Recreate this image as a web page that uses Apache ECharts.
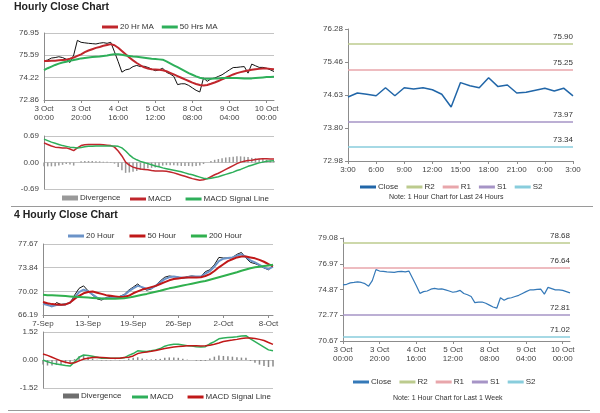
<!DOCTYPE html>
<html><head><meta charset="utf-8">
<script src="https://cdn.jsdelivr.net/npm/echarts@6/dist/echarts.min.js"></script>
<style>html,body{margin:0;padding:0;background:#fff}#c{width:600px;height:413px}</style>
</head><body><div id="c"></div>
<script>
// ---------- Hourly (2-hour steps) 3 Oct 00:00 -> 10 Oct ----------
const hourlyTicks = ['3 Oct\n00:00','3 Oct\n20:00','4 Oct\n16:00','5 Oct\n12:00','8 Oct\n08:00','9 Oct\n04:00','10 Oct\n00:00'];
const hourlyClose = [75.25,75.3,75.42,75.45,75.5,75.45,75.35,75.15,75.6,76.5,76.38,76.35,76.32,76.3,76.28,76.33,76.36,76.32,76.38,75.8,75.2,74.56,74.7,74.75,74.9,74.97,74.9,74.92,74.85,74.75,74.65,74.7,74.8,74.55,74.45,74.3,73.8,73.85,73.85,73.75,73.6,73.45,73.35,74.2,74.0,74.15,74.2,74.3,74.4,74.55,74.7,74.84,74.85,74.88,74.9,74.5,75.05,74.95,74.85,74.85,74.8,74.7,74.6];
const ma20Hr = [75.24,75.24,75.25,75.26,75.28,75.3,75.32,75.38,75.45,75.55,75.65,75.78,75.88,75.96,76.04,76.1,76.17,76.22,76.27,76.2,76.05,75.85,75.65,75.45,75.28,75.12,74.98,74.85,74.78,74.74,74.72,74.7,74.68,74.62,74.52,74.42,74.32,74.22,74.12,74.02,73.92,73.84,73.78,73.75,73.78,73.85,73.93,74.02,74.12,74.22,74.32,74.42,74.5,74.56,74.62,74.66,74.7,74.74,74.76,74.78,74.78,74.76,74.74];
const ma50Hr = [74.68,74.8,74.9,75.0,75.08,75.15,75.2,75.25,75.3,75.35,75.4,75.43,75.46,75.48,75.5,75.52,75.55,75.58,75.62,75.65,75.65,75.62,75.58,75.55,75.52,75.5,75.47,75.44,75.41,75.38,75.36,75.34,75.32,75.22,75.1,74.98,74.86,74.74,74.62,74.5,74.4,74.3,74.22,74.17,74.15,74.16,74.17,74.18,74.2,74.2,74.2,74.2,74.2,74.19,74.18,74.17,74.18,74.2,74.22,74.24,74.26,74.27,74.28];
const macdHourly = [0.51,0.47,0.43,0.40,0.39,0.38,0.38,0.35,0.31,0.38,0.44,0.46,0.47,0.47,0.47,0.47,0.46,0.45,0.44,0.40,0.30,0.17,0.01,-0.07,-0.12,-0.15,-0.17,-0.18,-0.19,-0.21,-0.22,-0.22,-0.22,-0.23,-0.25,-0.27,-0.30,-0.33,-0.36,-0.39,-0.42,-0.44,-0.46,-0.45,-0.42,-0.37,-0.32,-0.28,-0.23,-0.18,-0.13,-0.08,-0.03,0.01,0.03,0.05,0.06,0.08,0.09,0.10,0.10,0.09,0.09];
const signalHourly = [0.61,0.57,0.53,0.50,0.47,0.44,0.42,0.40,0.39,0.38,0.39,0.41,0.42,0.42,0.43,0.43,0.43,0.43,0.43,0.43,0.42,0.38,0.30,0.20,0.12,0.07,0.03,0.0,-0.03,-0.06,-0.09,-0.11,-0.14,-0.16,-0.18,-0.20,-0.22,-0.24,-0.27,-0.30,-0.32,-0.35,-0.38,-0.41,-0.42,-0.41,-0.39,-0.37,-0.34,-0.31,-0.28,-0.25,-0.21,-0.18,-0.14,-0.10,-0.07,-0.04,-0.01,0.01,0.03,0.04,0.045];
const divHourly = [-0.10,-0.10,-0.10,-0.10,-0.08,-0.06,-0.04,-0.05,-0.08,0.0,0.03,0.04,0.04,0.04,0.03,0.03,0.02,0.02,0.01,-0.03,-0.12,-0.20,-0.27,-0.26,-0.24,-0.22,-0.19,-0.17,-0.15,-0.14,-0.13,-0.11,-0.08,-0.07,-0.07,-0.07,-0.08,-0.09,-0.09,-0.09,-0.10,-0.09,-0.08,-0.04,0.0,0.04,0.07,0.09,0.11,0.13,0.14,0.15,0.16,0.16,0.15,0.14,0.12,0.11,0.10,0.09,0.07,0.05,0.04];
const yTicksHourly = [72.86,74.22,75.59,76.95];
const yTicksHourlyMacd = [-0.69,0.00,0.69];

// ---------- Last 24 hours ----------
const dayTicks = ['3:00','6:00','9:00','12:00','15:00','18:00','21:00','0:00','3:00'];
const dayClose = [74.58,74.68,74.65,74.61,74.81,74.61,74.81,74.78,74.81,74.76,74.65,74.33,74.94,74.86,74.81,75.06,74.84,74.88,74.68,74.70,74.75,74.80,74.73,74.80,74.61];
const yTicksDay = [72.98,73.80,74.63,75.46,76.28];
const levelNames = ['R2','R1','S1','S2'];
const levelsDay = [75.90,75.25,73.97,73.34];
const levelsWeek = [78.68,76.64,72.81,71.02];
const yTicksWeek = [70.67,72.77,74.87,76.97,79.08];

// ---------- 4 Hourly ----------
const fourHTicks = ['7-Sep','13-Sep','19-Sep','26-Sep','2-Oct','8-Oct'];
const fourHClose = [68.1,67.9,67.5,68.2,67.9,68.0,68.1,69.4,70.5,70.9,70.1,69.4,68.8,68.6,69.0,69.2,69.1,69.2,69.5,70.2,70.7,71.2,70.6,70.2,70.4,71.0,71.7,72.3,72.5,72.4,72.3,72.1,72.4,72.5,72.4,72.4,73.2,73.5,74.3,75.5,75.4,75.4,75.5,76.0,76.3,75.4,74.7,74.5,74.2,73.8,73.5,74.2];
const ma20Hour = [68.0,67.8,67.6,67.8,67.8,67.9,68.2,69.0,69.9,70.3,70.0,69.5,69.0,68.8,68.9,69.0,69.0,69.1,69.4,70.0,70.5,70.9,70.7,70.4,70.5,70.9,71.5,72.0,72.3,72.4,72.3,72.2,72.3,72.4,72.4,72.4,72.9,73.3,74.0,74.9,75.3,75.4,75.5,75.8,76.0,75.6,75.0,74.7,74.3,73.9,73.6,74.0];
const ma50Hour = [68.3,68.1,67.95,67.9,67.85,67.9,68.2,68.8,69.3,69.7,69.9,70.0,69.8,69.6,69.4,69.3,69.2,69.1,69.15,69.3,69.7,70.0,70.3,70.5,70.7,70.9,71.2,71.5,71.8,72.0,72.1,72.2,72.25,72.25,72.25,72.3,72.5,72.8,73.3,73.9,74.4,74.9,75.2,75.5,75.65,75.65,75.5,75.35,75.1,74.8,74.4,74.1];
const ma200Hour = [69.45,69.4,69.4,69.35,69.3,69.25,69.2,69.15,69.1,69.05,69.0,68.95,68.9,68.85,68.8,68.8,68.8,68.85,68.9,69.0,69.15,69.3,69.45,69.6,69.8,69.95,70.1,70.3,70.5,70.65,70.8,70.95,71.1,71.25,71.4,71.55,71.7,71.9,72.1,72.3,72.5,72.7,72.9,73.1,73.35,73.55,73.75,73.9,74.0,74.1,74.2,74.3];
const macd4H = [0.0,-0.1,-0.17,-0.22,-0.26,-0.3,-0.33,-0.1,0.15,0.27,0.25,0.2,0.15,0.1,0.09,0.09,0.1,0.09,0.12,0.25,0.35,0.5,0.48,0.46,0.5,0.55,0.62,0.75,0.82,0.86,0.86,0.82,0.78,0.76,0.72,0.7,0.72,0.88,1.0,1.15,1.2,1.22,1.24,1.26,1.3,1.32,1.15,1.0,0.85,0.7,0.55,0.5];
const signal4H = [0.33,0.25,0.15,0.05,-0.05,-0.12,-0.18,-0.15,-0.05,0.05,0.1,0.13,0.15,0.14,0.12,0.1,0.09,0.1,0.13,0.15,0.22,0.35,0.4,0.44,0.47,0.52,0.57,0.62,0.67,0.71,0.73,0.75,0.77,0.77,0.77,0.76,0.77,0.8,0.85,0.92,1.0,1.05,1.08,1.12,1.17,1.2,1.2,1.17,1.12,1.06,0.95,0.85];
const div4H = [-0.25,-0.3,-0.3,-0.27,-0.22,-0.18,-0.15,0.05,0.2,0.22,0.15,0.08,0.02,-0.03,-0.03,-0.02,0.01,-0.02,-0.01,0.08,0.12,0.15,0.08,0.03,0.03,0.05,0.06,0.12,0.14,0.13,0.12,0.07,0.02,0.0,-0.04,-0.06,-0.05,0.08,0.18,0.25,0.22,0.2,0.18,0.15,0.13,0.12,-0.05,-0.15,-0.25,-0.32,-0.38,-0.35];
const yTicks4H = [66.19,70.02,73.84,77.67];
const yTicks4HMacd = [-1.52,0.00,1.52];

const FONT = 'Liberation Sans, Arial, sans-serif';
const C = {
  red:'#c0262c', green:'#2eaf5a', grey:'#9a9a9a', blue:'#2166a8', wblue:'#3579b8',
  b20:'#6b93c8', r50:'#c01818', g200:'#30b04e',
  R2:'#bccb8e', R1:'#e8a6ab', S1:'#a694c6', S2:'#88cddc'
};
const levelColors = [C.R2, C.R1, C.S1, C.S2];

function idx(n){ const a=[]; for(let i=0;i<n;i++) a.push(String(i)); return a; }

function xCat(grid, n, step, ticks, showLabels, lh){
  return {
    type:'category', gridIndex:grid, data:idx(n), boundaryGap:false,
    axisLine:{show:showLabels, lineStyle:{color:'#8c8c8c', width:1}},
    axisTick:{show:showLabels, length:3, interval:(i)=>i%step===0, lineStyle:{color:'#8c8c8c'}},
    axisLabel:{show:showLabels, interval:(i)=>i%step===0, formatter:(v,i)=>ticks[Math.round(i/step)]||'',
      fontSize:8, color:'#444', fontFamily:FONT, lineHeight:lh||9, margin:4},
    splitLine:{show:false}
  };
}
function yVal(grid, ticks, split, tick){
  return {
    type:'value', gridIndex:grid, min:ticks[0], max:ticks[ticks.length-1],
    axisLine:{show:true, lineStyle:{color:'#8c8c8c'}},
    axisTick:{show:!!tick, length:3, customValues:ticks, lineStyle:{color:'#8c8c8c'}},
    axisLabel:{customValues:ticks, formatter:(v)=>v.toFixed(2), fontSize:8, color:'#444', fontFamily:FONT, margin:5},
    splitLine:{show:split, lineStyle:{color:'#c4c4c4', width:1}}
  };
}
function line(name, x, data, color, width, z){
  return {name, type:'line', xAxisIndex:x, yAxisIndex:x, data, symbol:'none', silent:true,
    lineStyle:{color, width}, itemStyle:{color}, z:z||2, animation:false};
}
function level(name, x, value, color){
  return {name, type:'line', xAxisIndex:x, yAxisIndex:x, data:[], symbol:'none', silent:true,
    lineStyle:{color, width:1.5}, itemStyle:{color}, animation:false,
    markLine:{silent:true, symbol:'none', animation:false,
      lineStyle:{color, width:1.5, type:'solid'},
      label:{position:'insideEndTop', formatter:(p)=>p.value.toFixed(2), fontSize:8, color:'#333', fontFamily:FONT, distance:[0,3]},
      data:[{yAxis:value}]}};
}
function legend(items, left, top, gap, h){
  return {left, top, itemGap:gap, padding:0, selectedMode:false,
    textStyle:{fontSize:8, color:'#333', fontFamily:FONT, padding:[0,0,0,-3]},
    data:items.map(([name,color])=>({name, icon:'rect', itemStyle:{color, borderWidth:0}, lineStyle:{width:0}})),
    itemWidth:16, itemHeight:h||3};
}

const chart = echarts.init(document.getElementById('c'), null, {renderer:'canvas'});
const option = {
  animation:false,
  backgroundColor:'#fff',
  textStyle:{fontFamily:FONT},
  grid:[
    {left:44, top:33, width:230, height:67},
    {left:44, top:136, width:230, height:53},
    {left:348, top:29, width:225, height:132},
    {left:43, top:244, width:230, height:71},
    {left:43, top:332, width:230, height:56},
    {left:343, top:238, width:227, height:103}
  ],
  xAxis:[
    xCat(0, hourlyClose.length, 10, hourlyTicks, true, 9),
    xCat(1, macdHourly.length, 10, hourlyTicks, false),
    xCat(2, dayClose.length, 3, dayTicks, true),
    xCat(3, fourHClose.length, 10, fourHTicks, true),
    xCat(4, macd4H.length, 10, fourHTicks, false),
    xCat(5, hourlyClose.length, 10, hourlyTicks, true, 9)
  ],
  yAxis:[
    yVal(0, yTicksHourly, true, false),
    yVal(1, yTicksHourlyMacd, true, false),
    yVal(2, yTicksDay, false, true),
    yVal(3, yTicks4H, true, false),
    yVal(4, yTicks4HMacd, true, false),
    yVal(5, yTicksWeek, false, true)
  ],
  legend:[
    legend([['20 Hr MA',C.red],['50 Hrs MA',C.green]], 102, 23, 8),
    legend([['Divergence',C.grey]], 62, 194, 0, 5),
    legend([['MACD',C.red],['MACD Signal Line',C.green]], 130, 195, 14),
    legend([['Close',C.blue],['R2',C.R2],['R1',C.R1],['S1',C.S1],['S2',C.S2]], 360, 183, 8),
    legend([['20 Hour',C.b20],['50 Hour',C.r50],['200 Hour',C.g200]], 68, 232, 15),
    legend([['Divergence','#6e6e6e']], 63, 392, 0, 5),
    legend([['MACD',C.green],['MACD Signal Line',C.r50]], 132, 393, 14),
    legend([['Close',C.wblue],['R2',C.R2],['R1',C.R1],['S1',C.S1],['S2',C.S2]], 353, 378, 8)
  ],
  series:[
    line('Hourly Close', 0, hourlyClose, '#111', 1, 3),
    line('20 Hr MA', 0, ma20Hr, C.red, 2, 4),
    line('50 Hrs MA', 0, ma50Hr, C.green, 2, 4),
    {name:'Divergence', type:'bar', xAxisIndex:1, yAxisIndex:1, data:divHourly, barWidth:1.5, itemStyle:{color:C.grey}, silent:true, animation:false},
    line('MACD', 1, macdHourly, C.red, 1.5, 4),
    line('MACD Signal Line', 1, signalHourly, C.green, 1.5, 4),
    line('Close', 2, dayClose, C.blue, 1.5, 5),
    ...levelNames.map((n,i)=>level(n, 2, levelsDay[i], levelColors[i])),
    line('4H Close', 3, fourHClose, '#111', 1, 3),
    line('20 Hour', 3, ma20Hour, C.b20, 2, 4),
    line('50 Hour', 3, ma50Hour, C.r50, 2, 4),
    line('200 Hour', 3, ma200Hour, C.g200, 2, 4),
    {name:'Divergence', type:'bar', xAxisIndex:4, yAxisIndex:4, data:div4H, barWidth:1.5, itemStyle:{color:'#8a8a8a'}, silent:true, animation:false},
    line('MACD', 4, macd4H, C.green, 1.5, 4),
    line('MACD Signal Line', 4, signal4H, C.r50, 1.5, 4),
    line('Close', 5, hourlyClose, C.wblue, 1.2, 5),
    ...levelNames.map((n,i)=>level(n, 5, levelsWeek[i], levelColors[i]))
  ],
  graphic:[
    {type:'text', left:14, top:2, style:{text:'Hourly Close Chart', font:'bold 10.5px '+FONT, fill:'#222'}},
    {type:'text', left:14, top:210, style:{text:'4 Hourly Close Chart', font:'bold 10.5px '+FONT, fill:'#222'}},
    {type:'text', left:389, top:194, style:{text:'Note: 1 Hour Chart for Last 24 Hours', font:'7px '+FONT, fill:'#333'}},
    {type:'text', left:393, top:395, style:{text:'Note: 1 Hour Chart for Last 1 Week', font:'7px '+FONT, fill:'#333'}},
    {type:'line', shape:{x1:11, y1:206.5, x2:593, y2:206.5}, style:{stroke:'#9a9a9a', lineWidth:1}},
    {type:'line', shape:{x1:8, y1:410.5, x2:590, y2:410.5}, style:{stroke:'#9a9a9a', lineWidth:1}}
  ]
};
chart.setOption(option);
</script>
</body></html>
